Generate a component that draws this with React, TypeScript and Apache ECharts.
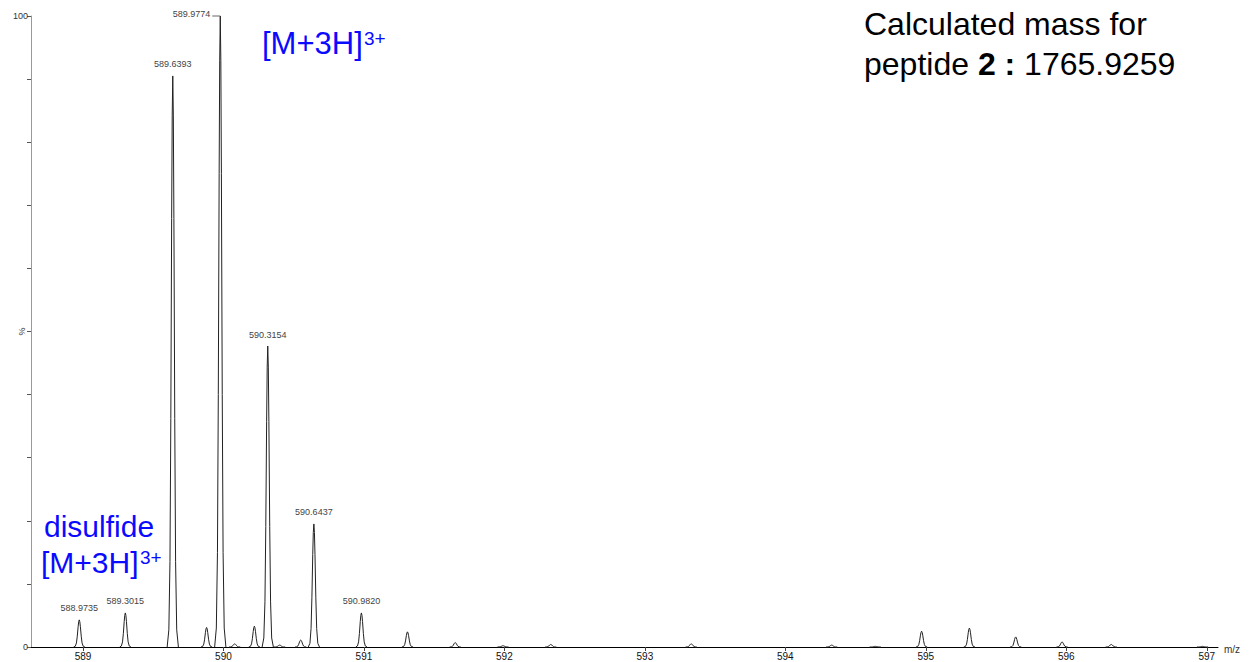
import React, { useEffect, useRef } from "react";
import * as echarts from "echarts";

// Centroid m/z values and relative intensities (%) of the spectrum peaks
const PEAK_MZ = [
  588.9735, 589.3015, 589.6393, 589.88, 589.9774, 590.08, 590.22, 590.3154,
  590.4, 590.55, 590.6437, 590.982, 591.31, 591.65, 591.99, 592.33, 593.33,
  594.33, 594.64, 594.97, 595.31, 595.64, 595.97, 596.32, 596.97,
];
const PEAK_INT = [
  4.3, 5.4, 90.5, 3.1, 100, 0.5, 3.3, 47.7, 0.3, 1.1, 19.5, 5.4, 2.4, 0.7, 0.2,
  0.4, 0.5, 0.3, 0.1, 2.5, 3.0, 1.6, 0.8, 0.4, 0.1,
];
// Peaks annotated with their m/z
const LABELED_MZ = [588.9735, 589.3015, 589.6393, 589.9774, 590.3154, 590.6437, 590.982];

const X_TICKS = [589, 590, 591, 592, 593, 594, 595, 596, 597];
const X_MIN = 588.63;
const X_MAX = 597.08;

// Normalised peak outline: [offset in half-widths, fraction of apex height]
const PEAK_SHAPE: [number, number][] = [
  [-1, 0], [-0.7, 0.03], [-0.5, 0.15], [-0.35, 0.4], [-0.2, 0.75], [-0.1, 0.93],
  [0, 1], [0.1, 0.93], [0.2, 0.75], [0.35, 0.4], [0.5, 0.15], [0.7, 0.03], [1, 0],
];
const HALF_WIDTH = 0.04;

const FONT = "'Liberation Sans', Arial, sans-serif";
const BLUE = "#0a0aff";

export default function App() {
  const ref = useRef<HTMLDivElement>(null);

  useEffect(() => {
    if (!ref.current) return;
    const chart = echarts.init(ref.current, null, { renderer: "svg" });
    const data = PEAK_MZ.map((mz, i) => [mz, PEAK_INT[i]]);

    chart.setOption({
      animation: false,
      backgroundColor: "#fff",
      grid: { left: 31, right: 31, top: 16, bottom: 15, containLabel: false },
      xAxis: {
        type: "value",
        min: X_MIN,
        max: X_MAX,
        name: "m/z",
        nameLocation: "end",
        nameGap: 6,
        nameTextStyle: { fontSize: 10, color: "#333", fontFamily: FONT, verticalAlign: "top", padding: [-3, 0, 0, 0] },
        axisLine: { lineStyle: { color: "#000", width: 1 } },
        axisTick: { customValues: X_TICKS, length: 4, lineStyle: { color: "#444" } },
        axisLabel: { customValues: X_TICKS, fontSize: 10, color: "#111", fontFamily: FONT, margin: 4 },
        splitLine: { show: false },
      },
      yAxis: {
        type: "value",
        min: 0,
        max: 100,
        interval: 10,
        axisLine: { show: true, lineStyle: { color: "#999" } },
        axisTick: { show: true, length: 4, lineStyle: { color: "#555" } },
        axisLabel: {
          fontSize: 9,
          color: "#333",
          fontFamily: FONT,
          margin: 3,
          formatter: (v: number) => (v === 0 || v === 100 ? String(v) : ""),
        },
        splitLine: { show: false },
      },
      series: [
        {
          type: "custom",
          coordinateSystem: "cartesian2d",
          encode: { x: 0, y: 1 },
          data,
          renderItem: (_params: any, api: any) => {
            const mz = api.value(0);
            const h = api.value(1);
            const points = PEAK_SHAPE.map(([dx, r]) => api.coord([mz + dx * HALF_WIDTH, h * r]));
            const children: any[] = [
              {
                type: "polyline",
                shape: { points },
                style: { stroke: "#222", fill: "none", lineWidth: 1 },
              },
            ];
            if (LABELED_MZ.includes(mz)) {
              const top = api.coord([mz, h]);
              const text = mz.toFixed(4);
              if (h >= 99) {
                children.push({
                  type: "line",
                  shape: { x1: top[0] - 8, y1: top[1], x2: top[0], y2: top[1] },
                  style: { stroke: "#666", lineWidth: 1 },
                });
                children.push({
                  type: "text",
                  x: top[0] - 10,
                  y: top[1] - 2,
                  style: { text, fill: "#444", font: `9px ${FONT}`, align: "right", verticalAlign: "middle" },
                });
              } else {
                children.push({
                  type: "text",
                  x: top[0],
                  y: top[1] - 7,
                  style: { text, fill: "#444", font: `9px ${FONT}`, align: "center", verticalAlign: "bottom" },
                });
              }
            }
            return { type: "group", children };
          },
        },
      ],
    });

    const pct = chart.convertToPixel({ gridIndex: 0 }, [X_MIN, 50]) as number[];

    chart.setOption({
      graphic: [
        {
          type: "text",
          x: pct[0] - 9,
          y: pct[1],
          rotation: Math.PI / 2,
          style: { text: "%", fill: "#333", font: `9px ${FONT}`, align: "center", verticalAlign: "middle" },
        },
        {
          type: "text",
          left: 262,
          top: 28,
          style: { text: "[M+3H]", fill: BLUE, font: `31px ${FONT}` },
        },
        {
          type: "text",
          left: 364,
          top: 29,
          style: { text: "3+", fill: BLUE, font: `19px ${FONT}` },
        },
        {
          type: "text",
          left: 44,
          top: 511,
          style: { text: "disulfide", fill: BLUE, font: `30px ${FONT}` },
        },
        {
          type: "text",
          left: 41,
          top: 547,
          style: { text: "[M+3H]", fill: BLUE, font: `30px ${FONT}` },
        },
        {
          type: "text",
          left: 140,
          top: 548,
          style: { text: "3+", fill: BLUE, font: `19px ${FONT}` },
        },
        {
          type: "text",
          left: 864,
          top: 8,
          style: { text: "Calculated mass for", fill: "#000", font: `32px ${FONT}` },
        },
        {
          type: "text",
          left: 864,
          top: 48,
          style: {
            text: "{n|peptide }{b|2 :}{n| 1765.9259}",
            fill: "#000",
            font: `32px ${FONT}`,
            rich: {
              n: { fontSize: 32, fontFamily: FONT, color: "#000" },
              b: { fontSize: 32, fontFamily: FONT, fontWeight: "bold", color: "#000" },
            },
          },
        },
      ],
    });

    return () => chart.dispose();
  }, []);

  return (
    <div
      ref={ref}
      style={{ position: "fixed", left: 0, top: 0, width: 1249, height: 662, background: "#fff" }}
    />
  );
}
